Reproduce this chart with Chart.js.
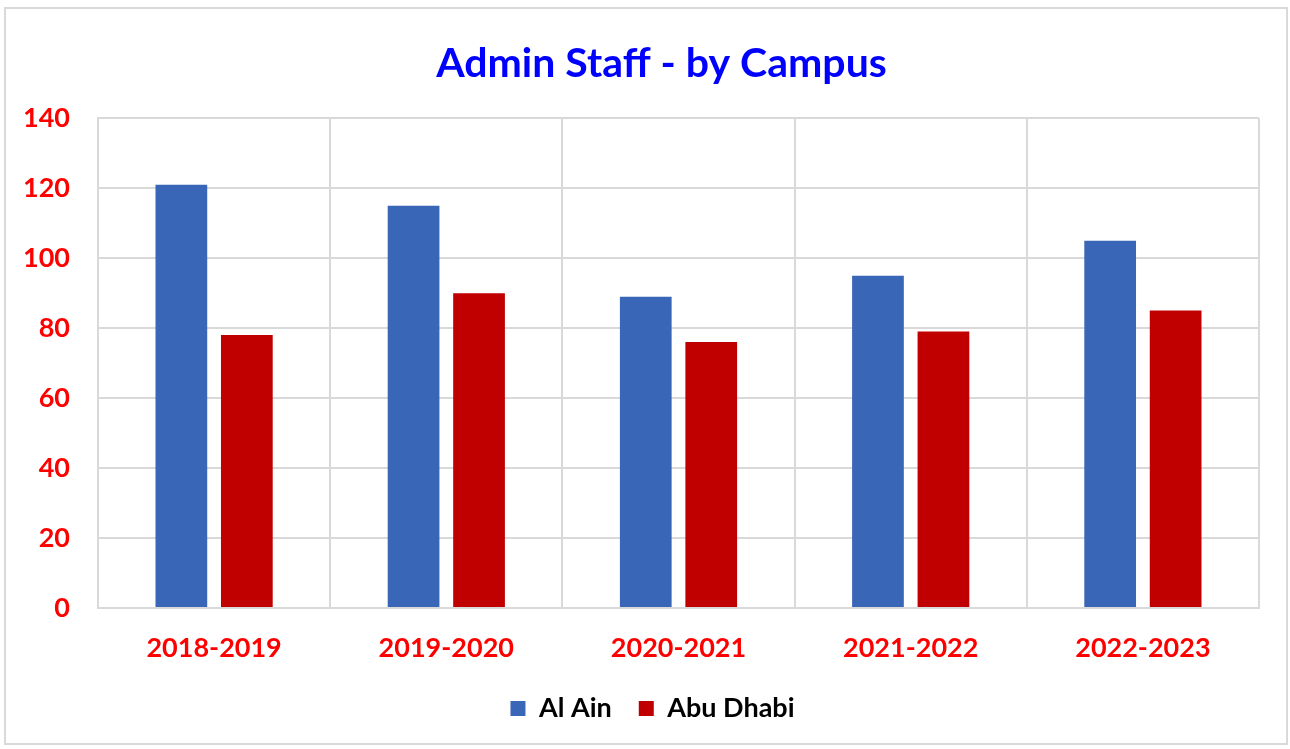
<!DOCTYPE html>
<html>
<head>
<meta charset="utf-8">
<script src="https://cdn.jsdelivr.net/npm/chart.js@4/dist/chart.umd.min.js"></script>
<style>
  html, body { margin: 0; padding: 0; background: #fff; }
  #wrap {
    position: absolute; left: 4px; top: 7px;
    width: 1280px; height: 734px;
    border: 2px solid #d9d9d9;
  }
</style>
</head>
<body>
<div id="wrap"><canvas id="chart"></canvas></div>
<script>
// Chart data
const years = ['2018-2019', '2019-2020', '2020-2021', '2021-2022', '2022-2023'];
const alAin = [121, 115, 89, 95, 105];
const abuDhabi = [78, 90, 76, 79, 85];
const yTicks = [0, 20, 40, 60, 80, 100, 120, 140];

const gridColor = '#d9d9d9';
const font = 'Lato';

// title and legend sit a bit right of the canvas centre in the original
const centreShift = {
  id: 'centreShift',
  afterLayout(chart) {
    chart.titleBlock.left += 29;
    chart.titleBlock.right += 29;
    chart.legend.left += 20;
    chart.legend.right += 20;
  }
};

const ctx = document.getElementById('chart').getContext('2d');
new Chart(ctx, {
  type: 'bar',
  data: {
    labels: years,
    datasets: [
      { label: 'Al Ain', data: alAin, backgroundColor: '#3966b6' },
      { label: 'Abu Dhabi', data: abuDhabi, backgroundColor: '#c00000' }
    ]
  },
  options: {
    responsive: true,
    maintainAspectRatio: false,
    animation: false,
    categoryPercentage: 0.564,
    barPercentage: 0.79,
    layout: { padding: { left: 0, right: 27, top: 0, bottom: 11 } },
    plugins: {
      title: {
        display: true,
        text: 'Admin Staff - by Campus',
        color: '#0000ff',
        font: { family: font, size: 41, weight: 'bold' },
        padding: { top: 30, bottom: 30 }
      },
      legend: {
        position: 'bottom',
        labels: {
          color: '#000',
          font: { family: font, size: 27, weight: 'bold' },
          boxWidth: 15,
          boxHeight: 15,
          padding: 27
        }
      },
      tooltip: { enabled: false }
    },
    scales: {
      x: {
        grid: { color: gridColor, lineWidth: 2, drawTicks: false },
        border: { color: gridColor, width: 2 },
        ticks: {
          color: '#ff0000',
          font: { family: font, size: 27, weight: 'bold' },
          padding: 24
        },
        afterFit: function(scale) { scale.height = 60; }
      },
      y: {
        min: 0,
        max: 140,
        afterBuildTicks: function(scale) {
          scale.ticks = yTicks.map(v => ({ value: v }));
        },
        grid: { color: gridColor, lineWidth: 2, drawTicks: false },
        border: { color: gridColor, width: 2 },
        ticks: {
          color: '#ff0000',
          font: { family: font, size: 27, weight: 'bold' },
          padding: 28
        },
        afterFit: function(scale) { scale.width = 92; }
      }
    }
  },
  plugins: [centreShift]
});
</script>
</body>
</html>
